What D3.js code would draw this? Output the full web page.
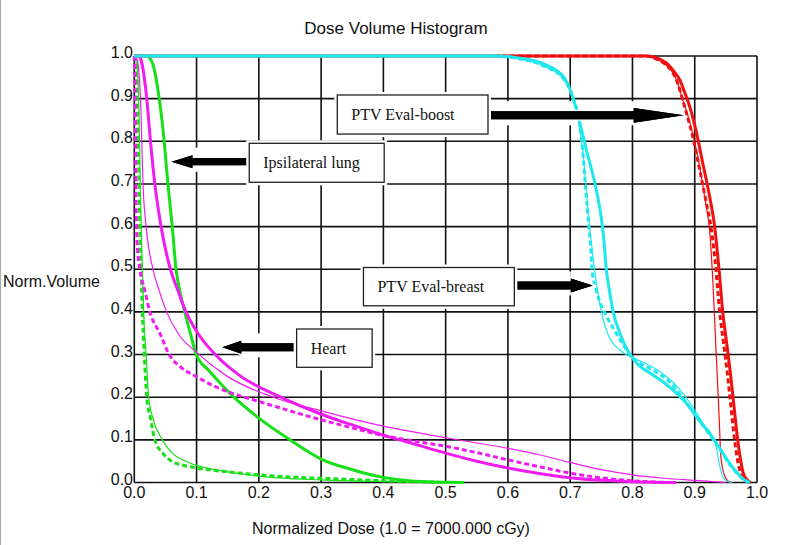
<!DOCTYPE html>
<html><head><meta charset="utf-8">
<script src="https://cdn.jsdelivr.net/npm/d3@7"></script>
<style>body{margin:0;background:#fff}svg{display:block}</style>
</head><body>
<svg id="c" width="791" height="545"></svg>
<script>
// ---------- DATA ----------
const ticks = [0,0.1,0.2,0.3,0.4,0.5,0.6,0.7,0.8,0.9,1.0];
const tickLabels = ["0.0","0.1","0.2","0.3","0.4","0.5","0.6","0.7","0.8","0.9","1.0"];

// Ipsilateral lung (green)
const lungThick = [[0,1],[0.01,1],[0.02,1],[0.025,0.995],[0.03,0.98],[0.04,0.9],[0.048,0.8],[0.054,0.7],[0.061,0.6],[0.067,0.5],[0.073,0.45],[0.081,0.4],[0.09,0.35],[0.0995,0.3],[0.12,0.262],[0.14,0.23],[0.16,0.2],[0.2,0.151],[0.25,0.1],[0.3,0.055],[0.35,0.03],[0.4,0.012],[0.45,0.003],[0.5,0.0005],[0.53,0]];
const lungDashed = [[0,1],[0.003,0.98],[0.005,0.9],[0.007,0.75],[0.009,0.6],[0.011,0.5],[0.013,0.4],[0.016,0.3],[0.02,0.2],[0.026,0.15],[0.033,0.1],[0.045,0.07],[0.06,0.05],[0.08,0.04],[0.1,0.034],[0.15,0.025],[0.2,0.018],[0.25,0.013],[0.3,0.01],[0.35,0.007],[0.4,0.004],[0.45,0.002],[0.5,0]];
const lungThin = [[0,1],[0.004,0.98],[0.007,0.9],[0.009,0.75],[0.011,0.6],[0.013,0.5],[0.015,0.4],[0.019,0.3],[0.023,0.2],[0.03,0.15],[0.045,0.1],[0.06,0.07],[0.075,0.055],[0.09,0.045],[0.1,0.04],[0.15,0.025],[0.2,0.015],[0.3,0.006],[0.4,0.002],[0.5,0]];

// Heart (magenta)
const heartThick = [[0,1],[0.008,1],[0.011,0.99],[0.02,0.9],[0.026,0.8],[0.033,0.7],[0.043,0.6],[0.058,0.5],[0.07,0.45],[0.083,0.4],[0.102,0.35],[0.13,0.3],[0.17,0.25],[0.235,0.2],[0.3,0.16],[0.35,0.135],[0.4,0.111],[0.45,0.09],[0.5,0.069],[0.55,0.05],[0.6,0.034],[0.65,0.021],[0.7,0.011],[0.75,0.005],[0.8,0.002],[0.87,0]];
const heartDashed = [[0,1],[0.001,0.95],[0.002,0.8],[0.003,0.65],[0.005,0.55],[0.009,0.5],[0.017,0.45],[0.025,0.4],[0.041,0.35],[0.056,0.3],[0.075,0.27],[0.1,0.248],[0.13,0.225],[0.17,0.203],[0.2,0.19],[0.25,0.168],[0.3,0.147],[0.35,0.128],[0.4,0.11],[0.45,0.097],[0.5,0.085],[0.55,0.07],[0.6,0.053],[0.65,0.037],[0.7,0.022],[0.75,0.011],[0.8,0.004],[0.86,0]];
const heartThin = [[0,1],[0.005,0.99],[0.008,0.95],[0.01,0.9],[0.012,0.8],[0.014,0.7],[0.019,0.6],[0.03,0.5],[0.04,0.45],[0.052,0.4],[0.07,0.35],[0.1,0.305],[0.148,0.25],[0.223,0.2],[0.3,0.168],[0.4,0.132],[0.5,0.105],[0.6,0.08],[0.65,0.065],[0.7,0.047],[0.75,0.03],[0.8,0.018],[0.85,0.01],[0.9,0.005],[0.95,0]];

// PTV Eval-boost (red)
const boostThick = [[0,1],[0.6,1],[0.822,1],[0.84,0.995],[0.855,0.983],[0.866,0.965],[0.876,0.944],[0.885,0.91],[0.892,0.881],[0.903,0.819],[0.913,0.748],[0.924,0.67],[0.932,0.6],[0.939,0.5],[0.945,0.4],[0.951,0.33],[0.957,0.26],[0.963,0.18],[0.969,0.1],[0.974,0.05],[0.978,0.022],[0.983,0.008],[0.99,0]];
const boostDashed = [[0,1],[0.6,1],[0.82,1],[0.838,0.993],[0.853,0.98],[0.865,0.96],[0.873,0.935],[0.88,0.9],[0.886,0.87],[0.897,0.81],[0.907,0.74],[0.918,0.66],[0.927,0.59],[0.934,0.5],[0.94,0.4],[0.946,0.33],[0.952,0.26],[0.958,0.18],[0.964,0.1],[0.969,0.05],[0.974,0.02],[0.98,0.006],[0.986,0]];
const boostThin = [[0,1],[0.6,1],[0.82,1],[0.838,0.993],[0.853,0.98],[0.865,0.96],[0.873,0.935],[0.88,0.9],[0.887,0.87],[0.898,0.81],[0.908,0.74],[0.917,0.66],[0.924,0.59],[0.929,0.475],[0.934,0.318],[0.939,0.16],[0.942,0.06],[0.946,0.025],[0.95,0.01],[0.955,0.002],[0.96,0]];

// PTV Eval-breast (cyan)
const breastThick = [[0,1],[0.58,1],[0.62,0.995],[0.66,0.98],[0.69,0.95],[0.705,0.9],[0.716,0.84],[0.726,0.78],[0.742,0.686],[0.75,0.62],[0.754,0.57],[0.758,0.5],[0.763,0.45],[0.769,0.4],[0.78,0.35],[0.796,0.3],[0.81,0.275],[0.828,0.257],[0.85,0.235],[0.871,0.209],[0.89,0.18],[0.903,0.154],[0.92,0.122],[0.935,0.092],[0.956,0.045],[0.97,0.02],[0.978,0.008],[0.988,0]];
const breastDashed = [[0,1],[0.57,1],[0.62,0.993],[0.66,0.975],[0.69,0.945],[0.705,0.9],[0.715,0.842],[0.72,0.78],[0.725,0.686],[0.73,0.6],[0.733,0.55],[0.735,0.5],[0.742,0.45],[0.755,0.4],[0.774,0.35],[0.796,0.3],[0.812,0.28],[0.835,0.262],[0.86,0.235],[0.88,0.2],[0.9,0.16],[0.92,0.12],[0.935,0.09],[0.955,0.045],[0.97,0.018],[0.98,0.005],[0.988,0]];
const breastThin = [[0,1],[0.57,1],[0.62,0.993],[0.66,0.975],[0.69,0.945],[0.705,0.9],[0.714,0.842],[0.72,0.78],[0.726,0.686],[0.731,0.6],[0.735,0.55],[0.739,0.5],[0.744,0.45],[0.75,0.4],[0.76,0.35],[0.78,0.31],[0.796,0.295],[0.82,0.28],[0.844,0.26],[0.865,0.235],[0.881,0.209],[0.9,0.17],[0.915,0.135],[0.928,0.11],[0.935,0.08],[0.94,0.04],[0.945,0.014],[0.952,0.003],[0.96,0]];

const labels = ["PTV Eval-boost","Ipsilateral lung","PTV Eval-breast","Heart"];

// ---------- LAYOUT / STYLE ----------
const W = 791, H = 545;
const x = d3.scaleLinear().domain([0,1]).range([134.3,757]);
const y = d3.scaleLinear().domain([0,1]).range([482.5,56]);
const colors = {lung:"#18e018", heart:"#f01cf0", boost:"#f01010", breast:"#1ee8ee"};
const series = [
  {d:lungThin, c:colors.lung, w:1.2, dash:null},
  {d:lungDashed, c:colors.lung, w:3, dash:"5,3"},
  {d:lungThick, c:colors.lung, w:3, dash:null},
  {d:heartThin, c:colors.heart, w:1.2, dash:null},
  {d:heartDashed, c:colors.heart, w:3, dash:"5,3"},
  {d:heartThick, c:colors.heart, w:3, dash:null},
  {d:boostThin, c:colors.boost, w:1.2, dash:null},
  {d:boostDashed, c:colors.boost, w:3, dash:"5,3"},
  {d:boostThick, c:colors.boost, w:3, dash:null},
  {d:breastThin, c:colors.breast, w:1.2, dash:null},
  {d:breastDashed, c:colors.breast, w:3, dash:"5,3"},
  {d:breastThick, c:colors.breast, w:3, dash:null}
];
// annotation boxes in data units: [x0,x1,yTop,yBottom], arrow: y, tip x, direction, head length px
const ann = [
  {box:[0.326,0.568,0.9086,0.817], ay:0.861, tip:0.8823, dir:1, head:50, s:4, h:7.4},
  {box:[0.1846,0.4013,0.7953,0.7039], ay:0.7522, tip:0.0597, dir:-1, head:21, s:3.6, h:6.5},
  {box:[0.368,0.6103,0.5041,0.4143], ay:0.4619, tip:0.7363, dir:1, head:22, s:4, h:7},
  {box:[0.2607,0.382,0.3599,0.2701], ay:0.317, tip:0.1413, dir:-1, head:19, s:4, h:6.5}
];

const svg = d3.select("#c");
svg.append("rect").attr("width",W).attr("height",H).attr("fill","#fff");
svg.append("line").attr("x1",0.5).attr("x2",0.5).attr("y1",0).attr("y2",H).attr("stroke","#aaa").attr("stroke-width",1);

// grid
const g = svg.append("g");
g.selectAll(".vx").data(ticks).join("line")
  .attr("x1",d=>x(d)).attr("x2",d=>x(d)).attr("y1",y(0)).attr("y2",y(1))
  .attr("stroke","#111").attr("stroke-width",1.6);
g.selectAll(".hy").data(ticks).join("line")
  .attr("y1",d=>y(d)).attr("y2",d=>y(d)).attr("x1",x(0)).attr("x2",x(1))
  .attr("stroke","#111").attr("stroke-width",1.6);

// white backing behind arrows (breaks grid lines)
ann.forEach(a=>{
  const cy = y(a.ay);
  const bx = a.dir>0 ? x(a.box[1]) : x(a.box[0]);
  const tx = x(a.tip);
  const hb = tx - a.dir*a.head;
  const lo = Math.min(bx,hb), hi = Math.max(bx,hb);
  svg.append("rect").attr("x",lo).attr("y",cy-14).attr("width",hi-lo).attr("height",24).attr("fill","#fff");
});

// tick labels
const font = "'Liberation Sans', Arial, sans-serif";
svg.selectAll(".xl").data(ticks).join("text")
  .attr("x",d=>x(d)).attr("y",498).attr("text-anchor","middle")
  .attr("font-family",font).attr("font-size",16).attr("fill","#111")
  .text((d,i)=>tickLabels[i]);
svg.selectAll(".yl").data(ticks).join("text")
  .attr("x",133).attr("y",d=>y(d)+2).attr("text-anchor","end")
  .attr("font-family",font).attr("font-size",16).attr("fill","#111")
  .text((d,i)=>tickLabels[i]);

// curves
const line = d3.line().x(d=>x(d[0])).y(d=>y(d[1])).curve(d3.curveMonotoneX);
series.forEach(s=>{
  svg.append("path").attr("d",line(s.d)).attr("fill","none")
    .attr("stroke",s.c).attr("stroke-width",s.w)
    .attr("stroke-dasharray",s.dash).attr("stroke-linejoin","round");
});

// arrows and boxes
ann.forEach((a,i)=>{
  const cy = y(a.ay);
  const bx = a.dir>0 ? x(a.box[1])+1.5 : x(a.box[0])-1.5;
  const tx = x(a.tip);
  const hb = tx - a.dir*a.head;
  const pts = [[bx,cy-a.s],[hb,cy-a.s],[hb,cy-a.h],[tx,cy],[hb,cy+a.h],[hb,cy+a.s],[bx,cy+a.s]];
  svg.append("polygon").attr("points",pts.map(p=>p.join(",")).join(" "))
    .attr("fill","#000").attr("stroke","#fff").attr("stroke-width",3).attr("paint-order","stroke");
  svg.append("polygon").attr("points",pts.map(p=>p.join(",")).join(" ")).attr("fill","#000");
  const x0 = x(a.box[0]), x1 = x(a.box[1]), y0 = y(a.box[2]), y1 = y(a.box[3]);
  svg.append("rect").attr("x",x0-3).attr("y",y0-3).attr("width",x1-x0+6).attr("height",y1-y0+6).attr("fill","#fff");
  svg.append("rect").attr("x",x0).attr("y",y0).attr("width",x1-x0).attr("height",y1-y0)
    .attr("fill","#fff").attr("stroke","#222").attr("stroke-width",1.3);
  svg.append("text").attr("x",x0+14).attr("y",(y0+y1)/2+5.5)
    .attr("font-family","'Liberation Serif','Times New Roman',serif").attr("font-size",16).attr("fill","#111")
    .text(labels[i]);
});

// titles
svg.append("text").attr("x",396).attr("y",34).attr("text-anchor","middle")
  .attr("font-family",font).attr("font-size",17).attr("fill","#111").text("Dose Volume Histogram");
svg.append("text").attr("x",3).attr("y",287)
  .attr("font-family",font).attr("font-size",16).attr("fill","#111").text("Norm.Volume");
svg.append("text").attr("x",391).attr("y",534).attr("text-anchor","middle")
  .attr("font-family",font).attr("font-size",16).attr("fill","#111").text("Normalized Dose (1.0 = 7000.000 cGy)");
</script>
</body></html>
